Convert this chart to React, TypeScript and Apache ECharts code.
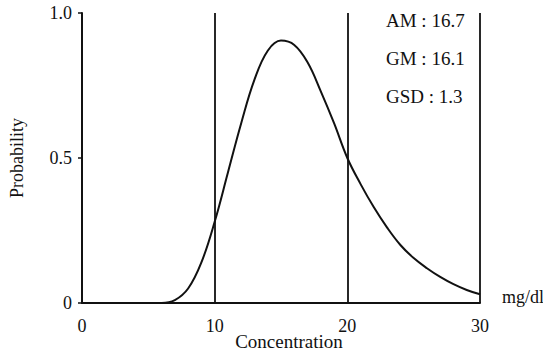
import React, { useEffect, useRef } from "react";
import * as echarts from "echarts";

const concentration = [0, 1, 2, 3, 4, 5, 6, 7, 8, 9, 10, 11, 12, 13, 14, 15, 16, 17, 18, 19, 20, 21, 22, 23, 24, 25, 26, 27, 28, 29, 30];
const probability = [0, 0, 0, 0, 0, 0, 0, 0.01, 0.05, 0.14, 0.28, 0.45, 0.62, 0.77, 0.87, 0.905, 0.89, 0.83, 0.73, 0.62, 0.5, 0.41, 0.33, 0.26, 0.2, 0.155, 0.12, 0.09, 0.065, 0.045, 0.03];
const refLines = [10, 20, 30];
const xTicks = [0, 10, 20, 30];
const yTicks = [0, 0.5, 1.0];
const stats = ["AM : 16.7", "GM : 16.1", "GSD : 1.3"];

const FONT = "Liberation Serif";

export default function App() {
  const ref = useRef<HTMLDivElement>(null);
  useEffect(() => {
    const chart = echarts.init(ref.current!, null, { renderer: "svg" });
    const data = concentration.map((c, i) => [c, probability[i]]);
    chart.setOption({
      animation: false,
      backgroundColor: "#fff",
      grid: { left: 80, right: 63, top: 13, bottom: 50 },
      xAxis: {
        type: "value",
        min: 0,
        max: 30,
        interval: 10,
        axisLine: { lineStyle: { color: "#111", width: 2 } },
        axisTick: { show: false },
        splitLine: { show: false },
        axisLabel: {
          fontFamily: FONT,
          fontSize: 18,
          color: "#111",
          margin: 14,
          formatter: (v: number) => (xTicks.includes(v) ? String(v) : ""),
        },
      },
      yAxis: {
        type: "value",
        min: 0,
        max: 1,
        interval: 0.5,
        name: "Probability",
        nameLocation: "middle",
        nameGap: 56,
        nameTextStyle: { fontFamily: FONT, fontSize: 18, color: "#111" },
        axisLine: { show: true, lineStyle: { color: "#111", width: 2 } },
        axisTick: { show: true, length: 4, lineStyle: { color: "#111", width: 1.5 } },
        splitLine: { show: false },
        axisLabel: {
          fontFamily: FONT,
          fontSize: 18,
          color: "#111",
          margin: 10,
          formatter: (v: number) => {
            const t = yTicks.find((y) => Math.abs(y - v) < 1e-9);
            if (t === undefined) return "";
            return t === 0 ? "0" : t.toFixed(1);
          },
        },
      },
      graphic: [
        {
          type: "text",
          x: 289,
          y: 341,
          style: { text: "Concentration", font: `19px "${FONT}"`, fill: "#111", align: "center", verticalAlign: "middle" },
        },
        {
          type: "text",
          x: 502,
          y: 297,
          style: { text: "mg/dl", font: `18px "${FONT}"`, fill: "#111", align: "left", verticalAlign: "middle" },
        },
        ...stats.map((s, i) => ({
          type: "text",
          x: 386,
          y: 20 + i * 38,
          style: { text: s, font: `19px "${FONT}"`, fill: "#111", align: "left", verticalAlign: "middle" },
        })),
      ],
      series: [
        {
          type: "line",
          data,
          smooth: 0.4,
          showSymbol: false,
          lineStyle: { color: "#111", width: 2 },
          markLine: {
            silent: true,
            symbol: "none",
            label: { show: false },
            lineStyle: { color: "#111", width: 1.8, type: "solid" },
            data: refLines.map((x) => ({ xAxis: x })),
          },
        },
      ],
    });
    return () => chart.dispose();
  }, []);
  return <div ref={ref} style={{ position: "fixed", left: 0, top: 0, width: 543, height: 353 }} />;
}
